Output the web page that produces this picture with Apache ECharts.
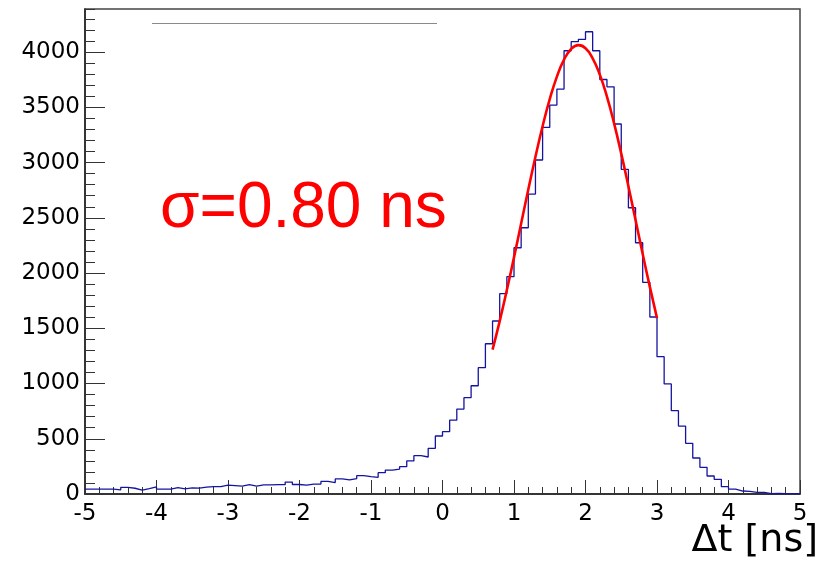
<!DOCTYPE html>
<html>
<head>
<meta charset="utf-8">
<script src="https://cdn.jsdelivr.net/npm/echarts@6/dist/echarts.min.js"></script>
<style>html,body{margin:0;padding:0;background:#fff;}#c{width:820px;height:562px;}</style>
</head>
<body>
<div id="c"></div>
<script>
// Histogram: 100 bins of width 0.1 from -5 to 5
var binStart = -5, binWidth = 0.1;
var counts = [
  44, 44, 44, 44, 38, 60, 52, 36, 48, 64,
  44, 44, 58, 46, 56, 54, 62, 66, 66, 80,
  76, 72, 84, 72, 82, 82, 84, 84, 108, 86,
  80, 90, 90, 115, 103, 136, 127, 139, 166, 157,
  151, 193, 217, 226, 247, 299, 347, 335, 413, 525,
  564, 668, 769, 872, 980, 1143, 1360, 1566, 1813, 1967,
  2229, 2410, 2715, 3023, 3318, 3520, 3665, 4012, 4094, 4115,
  4184, 4012, 3752, 3686, 3349, 2938, 2591, 2274, 1916, 1602,
  1243, 996, 754, 615, 459, 326, 241, 163, 133, 66,
  45, 27, 24, 15, 15, 4, 6, 3, 3, 4
];
// Fit curve points
var fitX = [0.7, 0.8, 0.9, 1.0, 1.1, 1.2, 1.3, 1.4, 1.5, 1.6, 1.7, 1.8, 1.9, 2.0, 2.1, 2.2, 2.3, 2.4, 2.5, 2.6, 2.7, 2.8, 2.9, 3.0];
var fitY = [1307, 1565, 1846, 2142, 2449, 2756, 3053, 3329, 3574, 3778, 3932, 4028, 4063, 4034, 3944, 3796, 3597, 3355, 3081, 2786, 2480, 2173, 1875, 1592];
var xTicks = [-5, -4, -3, -2, -1, 0, 1, 2, 3, 4, 5];
var yTicks = [0, 500, 1000, 1500, 2000, 2500, 3000, 3500, 4000];
var annotation = 'σ=0.80 ns';
var axisTitle = 'Δt [ns]';

var histData = [];
for (var i = 0; i < counts.length; i++) {
  histData.push([+(binStart + i * binWidth).toFixed(2), counts[i]]);
}
histData.push([+(binStart + counts.length * binWidth).toFixed(2), counts[counts.length - 1]]);
var fitData = fitX.map(function (x, k) { return [x, fitY[k]]; });

var chart = echarts.init(document.getElementById('c'), null, {renderer: 'canvas'});
var tickFont = 'DejaVu Sans';
chart.setOption({
  animation: false,
  backgroundColor: '#ffffff',
  grid: {left: 85, right: 20, top: 9, bottom: 68, show: true, borderColor: '#444', borderWidth: 1.5, backgroundColor: 'transparent'},
  xAxis: [{
    type: 'value', min: xTicks[0], max: xTicks[xTicks.length - 1], interval: 1,
    axisLine: {show: true, onZero: false, lineStyle: {color: '#222', width: 1.5}},
    axisTick: {show: true, inside: true, length: 14, lineStyle: {color: '#333', width: 1}},
    minorTick: {show: true, splitNumber: 5, length: 7, lineStyle: {color: '#333', width: 1}},
    splitLine: {show: false},
    axisLabel: {fontFamily: tickFont, fontSize: 23, color: '#000', margin: 9,
      formatter: function (v) { return String(Math.round(v)); }}
  }],
  yAxis: [{
    type: 'value', min: 0, max: 4390, interval: 500, position: 'left',
    axisLine: {show: true, onZero: false, lineStyle: {color: '#222', width: 1.5}},
    axisTick: {show: true, inside: true, length: 20, lineStyle: {color: '#333', width: 1}},
    splitLine: {show: false},
    axisLabel: {fontFamily: tickFont, fontSize: 23, color: '#000', margin: 5, showMaxLabel: false,
      formatter: function (v) { return yTicks.indexOf(v) >= 0 ? String(v) : ''; }}
  }, {
    type: 'value', min: 0, max: 4390, interval: 100, position: 'left',
    axisLine: {show: false, onZero: false},
    axisTick: {show: true, inside: true, length: 10, lineStyle: {color: '#333', width: 1}},
    splitLine: {show: false},
    axisLabel: {show: false}
  }],
  series: [{
    type: 'line', step: 'end', data: histData, symbol: 'none', xAxisIndex: 0, yAxisIndex: 0,
    lineStyle: {color: '#1414a0', width: 1.3}, z: 3
  }, {
    type: 'line', smooth: true, data: fitData, symbol: 'none', xAxisIndex: 0, yAxisIndex: 0,
    lineStyle: {color: '#ff0000', width: 2.6}, z: 4
  }],
  graphic: [
    {type: 'line', shape: {x1: 152, y1: 23.5, x2: 437, y2: 23.5}, style: {stroke: '#8a8a8a', lineWidth: 1}},
    {type: 'text', left: 160, top: 177, style: {text: annotation, fill: '#ff0000', font: '64px "Liberation Sans"'}},
    {type: 'text', right: 2, top: 522, style: {text: axisTitle, fill: '#000', font: '38px "DejaVu Sans"'}}
  ]
});
</script>
</body>
</html>
